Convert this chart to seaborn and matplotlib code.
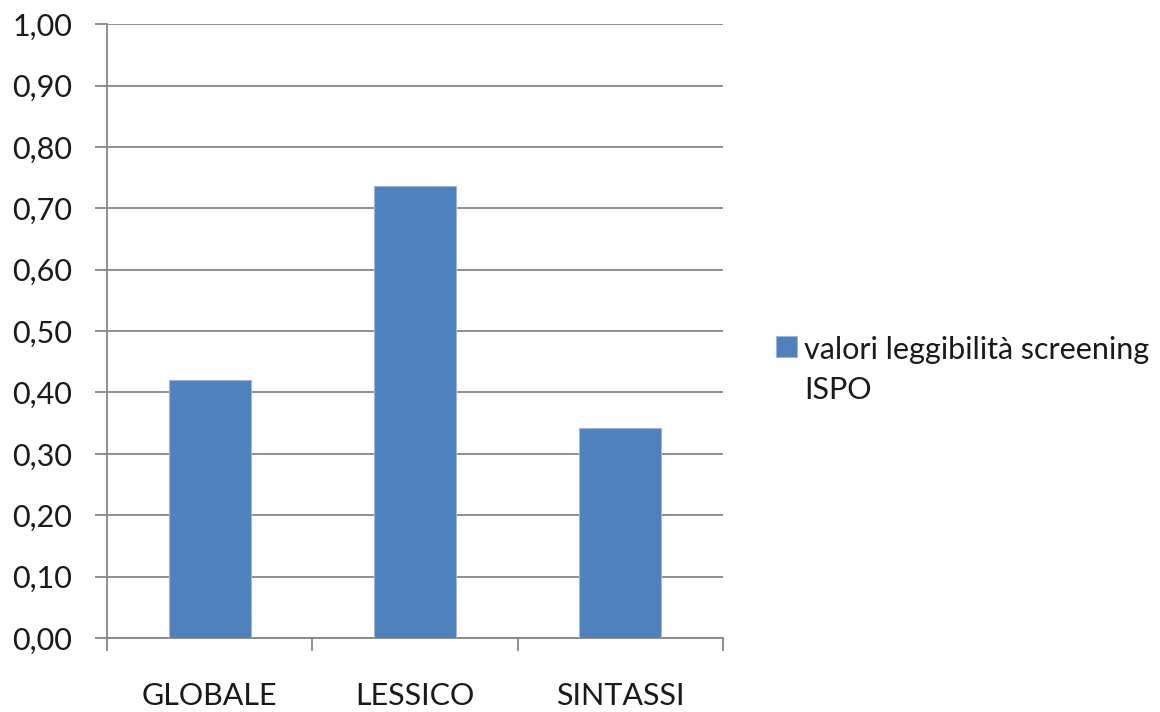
import matplotlib
matplotlib.use("Agg")
import matplotlib.pyplot as plt
from matplotlib.patches import Patch
from matplotlib.ticker import FixedLocator, MultipleLocator, FuncFormatter
import seaborn as sns
import pandas as pd

categories = ["GLOBALE", "LESSICO", "SINTASSI"]
values = [0.42, 0.736, 0.342]
series_name = "valori leggibilità screening\nISPO"

sns.set_style("white")
plt.rcParams["font.family"] = ["Lato", "DejaVu Sans"]

bar_color = "#4F81BD"
grid_color = "#868686"

df = pd.DataFrame({"categoria": categories, "valore": values})

fig = plt.figure(figsize=(11.6, 7.12), dpi=100)
ax = fig.add_axes([0.0922, 0.104, 0.531, 0.862])

sns.barplot(data=df, x="categoria", y="valore", color=bar_color, width=0.4,
            saturation=1, edgecolor="#9DB7DA", linewidth=0.8, ax=ax, zorder=3)

ax.set_ylim(0, 1.0)
ax.set_xlim(-0.5, 2.5)
ax.yaxis.set_major_locator(MultipleLocator(0.1))
ax.yaxis.set_major_formatter(FuncFormatter(lambda v, p: f"{v:.2f}".replace(".", ",")))
ax.grid(axis="y", color=grid_color, linewidth=1.3, zorder=0)
ax.set_axisbelow(True)

for side in ["top", "right"]:
    ax.spines[side].set_visible(False)
for side in ["left", "bottom"]:
    ax.spines[side].set_color(grid_color)
    ax.spines[side].set_linewidth(1.3)

ax.xaxis.set_minor_locator(FixedLocator([-0.5, 0.5, 1.5, 2.5]))
ax.tick_params(axis="x", which="major", length=0, pad=32, labelsize=22, labelcolor="#1a1a1a")
ax.tick_params(axis="x", which="minor", length=9, width=1.3, color=grid_color, direction="out")
ax.tick_params(axis="y", which="major", length=9, width=1.3, color=grid_color,
               direction="out", pad=16, labelsize=22, labelcolor="#1a1a1a")
ax.tick_params(bottom=True, left=True, which="both")

ax.set_xlabel("")
ax.set_ylabel("")

handle = Patch(facecolor=bar_color, edgecolor="#9DB7DA", linewidth=0.8)
leg = fig.legend([handle], [series_name], loc="upper left", bbox_to_anchor=(0.669, 0.528),
                 frameon=False, fontsize=22, handlelength=0.68, handleheight=0.68,
                 handletextpad=0.25, borderpad=0, borderaxespad=0, labelcolor="#1a1a1a")
leg.get_texts()[0].set_linespacing(1.5)
# keep the swatch level with the first line of the wrapped label
for column in leg._legend_handle_box.get_children():
    for row in column.get_children():
        row.align = "top"

fig.savefig("out.png", dpi=100)
